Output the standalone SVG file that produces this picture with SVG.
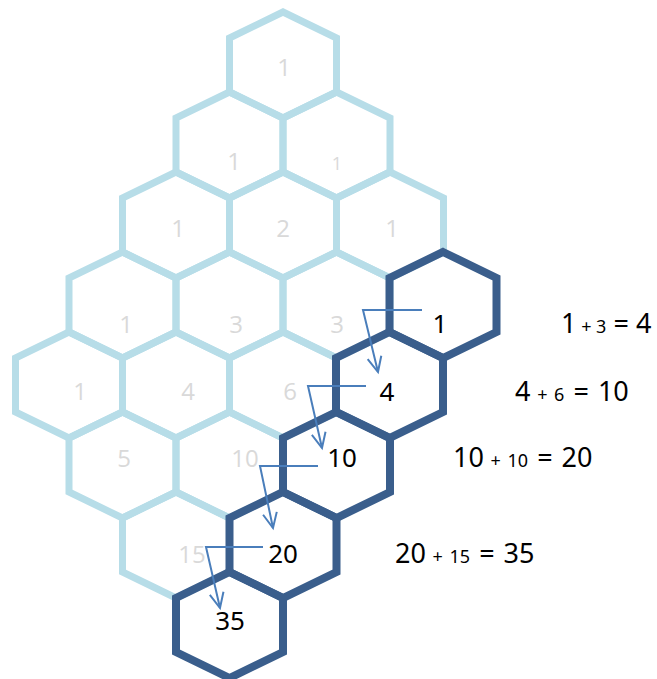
<svg xmlns="http://www.w3.org/2000/svg" xmlns:xlink="http://www.w3.org/1999/xlink" width="657" height="679" viewBox="0 0 657 679">
<style>
.lh{fill:none;stroke:#b7dde8;stroke-width:7;stroke-linejoin:miter}
.dh{fill:none;stroke:#3a5e8c;stroke-width:8;stroke-linejoin:miter}
.lt{font-family:"Open Sans","Liberation Sans",sans-serif;font-size:24px;fill:#d9d9d9;text-anchor:middle}
.dt{font-family:"Noto Sans","Liberation Sans",sans-serif;font-size:26px;fill:#000;text-anchor:middle}
.eq{font-family:"Noto Sans","Liberation Sans",sans-serif;font-size:27px;fill:#000;word-spacing:2px}
.sm{font-size:18px}
.ar{fill:none;stroke:#4a7ebb;stroke-width:2;marker-end:url(#ah)}
</style>
<defs>
<path id="hex" d="M0,-53 L53.5,-27 L53.5,27 L0,53 L-53.5,27 L-53.5,-27 Z"/>
<marker id="ah" markerUnits="userSpaceOnUse" markerWidth="20" markerHeight="20" refX="0" refY="0" viewBox="-16 -10 20 20" orient="auto" overflow="visible">
<path d="M-15,-7 L0,0 L-15,7" fill="none" stroke="#4a7ebb" stroke-width="2"/>
</marker>
</defs>
<g id="light-nodes">
<g id="n0-0"><use href="#hex" class="lh" x="283" y="65"/><text class="lt" x="284" y="76">1</text></g>
<g id="n1-0"><use href="#hex" class="lh" x="229.5" y="145"/><text class="lt" x="234" y="170">1</text></g>
<g id="n1-1"><use href="#hex" class="lh" x="336.5" y="145"/><text class="lt" x="337" y="170" style="font-size:18px">1</text></g>
<g id="n2-0"><use href="#hex" class="lh" x="176" y="225"/><text class="lt" x="178" y="237">1</text></g>
<g id="n2-1"><use href="#hex" class="lh" x="283" y="225"/><text class="lt" x="283" y="237">2</text></g>
<g id="n2-2"><use href="#hex" class="lh" x="390" y="225"/><text class="lt" x="392" y="237">1</text></g>
<g id="n3-0"><use href="#hex" class="lh" x="122.5" y="305"/><text class="lt" x="126" y="333">1</text></g>
<g id="n3-1"><use href="#hex" class="lh" x="229.5" y="305"/><text class="lt" x="236" y="333">3</text></g>
<g id="n3-2"><use href="#hex" class="lh" x="336.5" y="305"/><text class="lt" x="337" y="333">3</text></g>
<g id="n4-0"><use href="#hex" class="lh" x="69" y="385"/><text class="lt" x="80" y="400">1</text></g>
<g id="n4-1"><use href="#hex" class="lh" x="176" y="385"/><text class="lt" x="188" y="400">4</text></g>
<g id="n4-2"><use href="#hex" class="lh" x="283" y="385"/><text class="lt" x="290" y="400">6</text></g>
<g id="n5-1"><use href="#hex" class="lh" x="122.5" y="465"/><text class="lt" x="124" y="467">5</text></g>
<g id="n5-2"><use href="#hex" class="lh" x="229.5" y="465"/><text class="lt" x="245" y="467">10</text></g>
<g id="n6-2"><use href="#hex" class="lh" x="176" y="545"/><text class="lt" x="192" y="563">15</text></g>
</g>
<g id="dark-nodes">
<g id="d3"><use href="#hex" class="dh" x="443" y="305"/><text class="dt" x="440" y="333">1</text></g>
<g id="d4"><use href="#hex" class="dh" x="389.5" y="385"/><text class="dt" x="387" y="401">4</text></g>
<g id="d5"><use href="#hex" class="dh" x="336.5" y="465"/><text class="dt" x="342" y="467">10</text></g>
<g id="d6"><use href="#hex" class="dh" x="283" y="545"/><text class="dt" x="283" y="563">20</text></g>
<g id="d7"><use href="#hex" class="dh" x="229.5" y="625"/><text class="dt" x="230" y="630">35</text></g>
</g>
<g id="connectors">
<polyline class="ar" points="422,310 363,310 378,372"/>
<polyline class="ar" points="366,386 308,386 322,448"/>
<polyline class="ar" points="318,466 260,466 273,528"/>
<polyline class="ar" points="263,547 206,547 220,608"/>
</g>
<g id="equations">
<text class="eq" x="561" y="333" style="word-spacing:0">1<tspan class="sm"> + 3</tspan> = 4</text>
<text class="eq" x="515" y="401">4<tspan class="sm"> + 6</tspan> = 10</text>
<text class="eq" x="453" y="467">10<tspan class="sm"> + 10</tspan> = 20</text>
<text class="eq" x="395" y="563">20<tspan class="sm"> + 15</tspan> = 35</text>
</g>
</svg>
